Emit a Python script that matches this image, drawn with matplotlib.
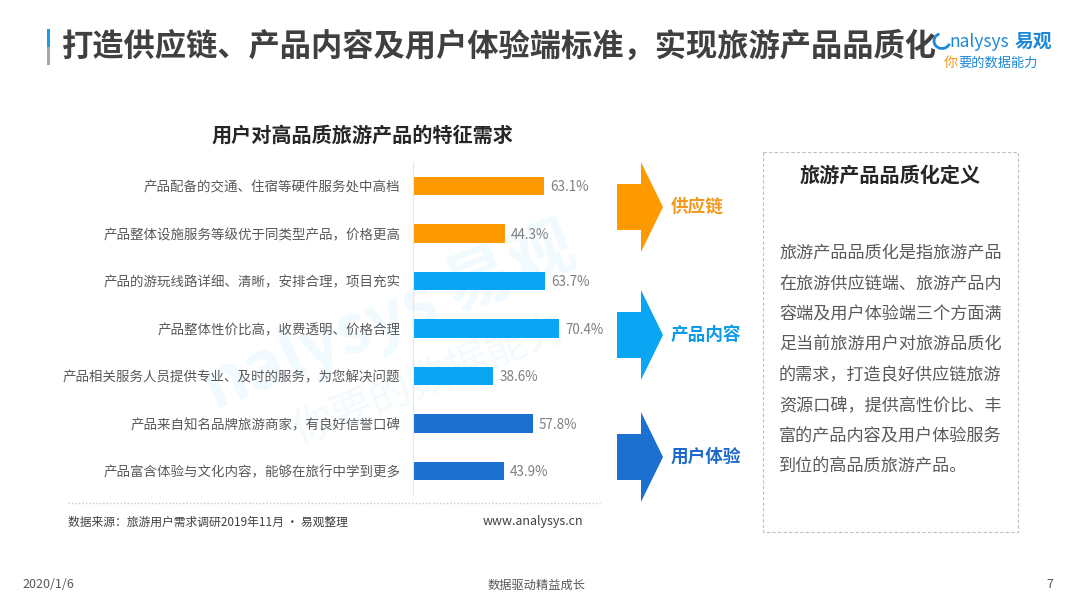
import numpy as np
import matplotlib
matplotlib.use('Agg')
import matplotlib.pyplot as plt
from matplotlib.patches import Polygon, Rectangle, Arc

plt.rcParams['font.family'] = ['Noto Sans CJK SC', 'DejaVu Sans']

# data
categories = [
    '产品配备的交通、住宿等硬件服务处中高档',
    '产品整体设施服务等级优于同类型产品，价格更高',
    '产品的游玩线路详细、清晰，安排合理，项目充实',
    '产品整体性价比高，收费透明、价格合理',
    '产品相关服务人员提供专业、及时的服务，为您解决问题',
    '产品来自知名品牌旅游商家，有良好信誉口碑',
    '产品富含体验与文化内容，能够在旅行中学到更多',
]
values = [63.1, 44.3, 63.7, 70.4, 38.6, 57.8, 43.9]
groups = ['供应链', '供应链', '产品内容', '产品内容', '产品内容', '用户体验', '用户体验']
group_names = ['供应链', '产品内容', '用户体验']
group_colors = {'供应链': '#FF9900', '产品内容': '#0AA6F4', '用户体验': '#1C70D0'}
group_text_colors = {'供应链': '#F39A1E', '产品内容': '#0C9BE6', '用户体验': '#1B6ACB'}

definition_lines = [
    '旅游产品品质化是指旅游产品',
    '在旅游供应链端、旅游产品内',
    '容端及用户体验端三个方面满',
    '足当前旅游用户对旅游品质化',
    '的需求，打造良好供应链旅游',
    '资源口碑，提供高性价比、丰',
    '富的产品内容及用户体验服务',
    '到位的高品质旅游产品。',
]

W, H = 1080, 608
fig = plt.figure(figsize=(W / 100, H / 100), dpi=100)
fig.patch.set_facecolor('white')

# overlay axes in pixel coordinates for decorations
ov = fig.add_axes([0, 0, 1, 1], zorder=0)
ov.set_xlim(0, W)
ov.set_ylim(H, 0)
ov.axis('off')

# faint watermark
ov.text(390, 318, 'nalysys 易观', fontsize=48, color='#0AA6F4', alpha=0.06,
        rotation=22, ha='center', va='center', fontweight='bold', style='italic')
ov.text(430, 380, '你要的数据能力', fontsize=30, color='#0AA6F4', alpha=0.05,
        rotation=22, ha='center', va='center')

# title bar marker + title
ov.add_patch(Rectangle((47, 29), 3, 18, color='#1E9BE9', lw=0))
ov.add_patch(Rectangle((47, 47), 3, 18, color='#A6A6A6', lw=0))
ov.text(62, 47, '打造供应链、产品内容及用户体验端标准，实现旅游产品品质化',
        fontsize=22.5, fontweight='bold', color='#404040', va='center', ha='left')

# logo
ov.add_patch(Arc((942, 41), 16, 15, theta1=20, theta2=250, color='#1E88D8', lw=2))
ov.text(949, 42, 'nalysys', fontsize=12.5, color='#1E88D8', va='center', ha='left',
        style='italic')
ov.text(1015, 41, '易观', fontsize=13.5, color='#1E88D8', va='center', ha='left',
        fontweight='bold')
ov.text(944, 63, '你', fontsize=10, color='#F39A1E', va='center', ha='left', style='italic')
ov.text(958, 63, '要的数据能力', fontsize=9.5, color='#1E88D8', va='center', ha='left',
        style='italic')

# chart title
ov.text(362, 135, '用户对高品质旅游产品的特征需求', fontsize=14.5, fontweight='bold',
        color='#262626', ha='center', va='center')

# bar chart axes
left_px, right_px = 413, 413 + 80 * 2.07
top_px, bot_px = 162.25, 494.75
ax = fig.add_axes([left_px / W, 1 - bot_px / H, (right_px - left_px) / W,
                   (bot_px - top_px) / H], zorder=1)
ax.patch.set_alpha(0)
y = np.arange(len(categories))
colors = [group_colors[g] for g in groups]
ax.barh(y, values, height=0.38, color=colors, zorder=2)
ax.set_xlim(0, 80)
ax.set_ylim(len(categories) - 0.5, -0.5)
ax.set_yticks(y)
ax.set_yticklabels(categories, fontsize=9.7, color='#595959')
ax.tick_params(axis='y', length=0, pad=9)
ax.set_xticks([])
for s in ['top', 'right', 'bottom']:
    ax.spines[s].set_visible(False)
ax.spines['left'].set_color('#E6E6E6')
ax.spines['left'].set_linewidth(0.8)
for yi, v in zip(y, values):
    ax.annotate(f'{v:.1f}%', xy=(v, yi), xytext=(4.5, -1), textcoords='offset points',
                fontsize=9.7, color='#7F7F7F', va='center', ha='left')

# bottom dotted line and source
ov.plot([68, 600], [503, 503], color='#C8C8C8', lw=1, ls=(0, (1, 1.5)))
ov.text(68, 522, '数据来源：旅游用户需求调研2019年11月 · 易观整理', fontsize=8.5,
        color='#404040', ha='left', va='center')
ov.text(583, 522, 'www.analysys.cn', fontsize=9, color='#404040', ha='right', va='center')

# arrows
arrow_centers = [207, 335, 457]
for name, cy in zip(group_names, arrow_centers):
    pts = [(617, cy - 23), (641, cy - 23), (641, cy - 45), (663, cy),
           (641, cy + 45), (641, cy + 23), (617, cy + 23)]
    ov.add_patch(Polygon(pts, closed=True, color=group_colors[name], lw=0))
    ov.text(671, cy, name, fontsize=12.7, fontweight='bold',
            color=group_text_colors[name], ha='left', va='center')

# definition box
ov.add_patch(Rectangle((763, 152), 255, 380, fill=False, edgecolor='#BFBFBF',
                       lw=0.8, ls=(0, (3, 2))))
ov.text(890, 175, '旅游产品品质化定义', fontsize=14.5, fontweight='bold',
        color='#262626', ha='center', va='center')
for i, line in enumerate(definition_lines):
    ov.text(779, 253 + i * 30.6, line, fontsize=12.3, color='#595959',
            ha='left', va='center')

# footer
ov.text(22, 585, '2020/1/6', fontsize=9, color='#595959', ha='left', va='center')
ov.text(537, 585, '数据驱动精益成长', fontsize=8.8, color='#595959', ha='center', va='center')
ov.text(1050, 585, '7', fontsize=9, color='#595959', ha='center', va='center')

fig.savefig('out.png', dpi=100)
